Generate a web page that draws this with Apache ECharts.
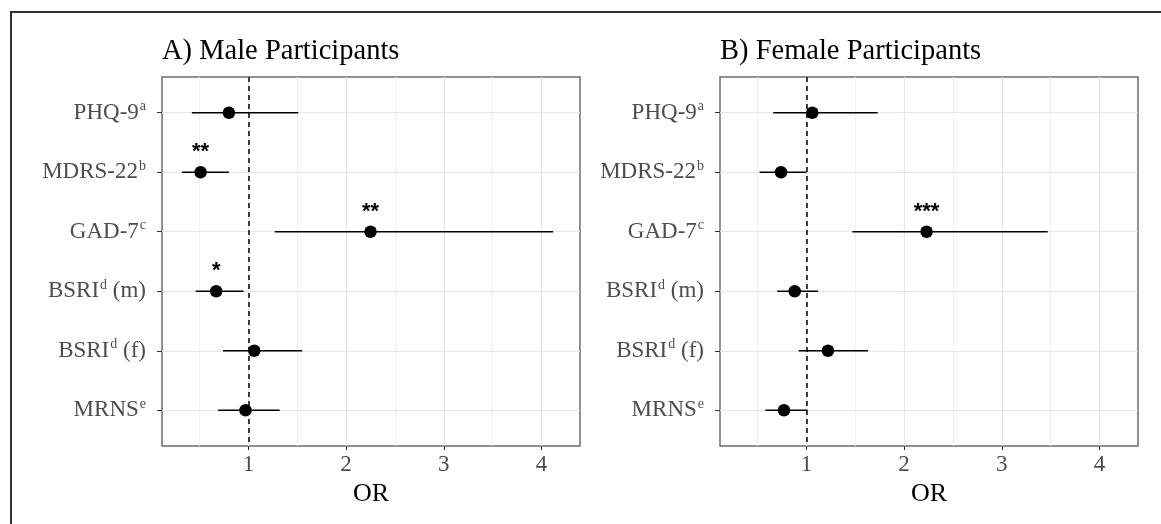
<!DOCTYPE html>
<html>
<head>
<meta charset="utf-8">
<script src="https://cdn.jsdelivr.net/npm/echarts@6/dist/echarts.min.js"></script>
<style>
html,body{margin:0;padding:0;background:#fff;}
#chart{width:1161px;height:524px;}
</style>
</head>
<body>
<div id="chart"></div>
<script>
// ---- data ----
var categories = ['PHQ-9', 'MDRS-22', 'GAD-7', 'BSRI (m)', 'BSRI (f)', 'MRNS'];
var labelBase = ['PHQ-9', 'MDRS-22', 'GAD-7', 'BSRI', 'BSRI', 'MRNS'];
var labelSup = ['a', 'b', 'c', 'd', 'd', 'e'];
var labelSuffix = ['', '', '', ' (m)', ' (f)', ''];

var maleOR   = [0.80, 0.51, 2.25, 0.67, 1.06, 0.97];
var maleLow  = [0.42, 0.32, 1.27, 0.46, 0.74, 0.69];
var maleHigh = [1.51, 0.80, 4.12, 0.95, 1.55, 1.32];
var maleStars = ['', '**', '**', '*', '', ''];

var femaleOR   = [1.06, 0.74, 2.23, 0.88, 1.22, 0.77];
var femaleLow  = [0.66, 0.52, 1.47, 0.70, 0.92, 0.58];
var femaleHigh = [1.73, 1.00, 3.47, 1.12, 1.63, 1.01];
var femaleStars = ['', '', '***', '', '', ''];

var xTicks = [1, 2, 3, 4];
var xMinor = [0.5, 1.5, 2.5, 3.5];
var refLine = 1;
var panelTitles = ['A) Male Participants', 'B) Female Participants'];
var xName = 'OR';

// ---- chart ----
var chart = echarts.init(document.getElementById('chart'), null, {renderer: 'canvas'});
var serif = '"Liberation Serif", "Times New Roman", serif';
var yPos = categories.map(function (c, i) { return i + 1; });

function yLabel(v) {
  var i = Math.round(v) - 1;
  var s = '{n|' + labelBase[i] + '}{s|' + labelSup[i] + '}';
  if (labelSuffix[i]) s += '{n|' + labelSuffix[i] + '}';
  return s;
}

var grids = [
  {left: 162, top: 77, width: 418, height: 369},
  {left: 720, top: 77, width: 418, height: 369}
];

function xAxisFor(gi) {
  return {
    type: 'value', gridIndex: gi, min: 0.115, max: 4.395,
    name: xName, nameLocation: 'middle', nameGap: 35,
    nameTextStyle: {fontFamily: serif, fontSize: 26, color: '#000'},
    axisLine: {show: false},
    axisTick: {show: true, length: 4, customValues: xTicks, lineStyle: {color: '#333', width: 1}},
    axisLabel: {customValues: xTicks, margin: 7, fontFamily: serif, fontSize: 23, color: '#4d4d4d'},
    splitLine: {show: false}
  };
}
function yAxisFor(gi) {
  return {
    type: 'value', gridIndex: gi, min: 0.4, max: 6.6, inverse: true,
    axisLine: {show: false},
    axisTick: {show: true, length: 5, customValues: yPos, lineStyle: {color: '#333', width: 1}},
    axisLabel: {
      customValues: yPos, margin: 16, formatter: yLabel,
      rich: {
        n: {fontFamily: serif, fontSize: 23, color: '#4d4d4d', lineHeight: 26},
        s: {fontFamily: serif, fontSize: 14, color: '#4d4d4d', verticalAlign: 'top', lineHeight: 26, padding: [0, 0, 9, 1]}
      }
    },
    splitLine: {show: false}
  };
}

function gridLineSeries(gi) {
  var lines = [];
  xMinor.forEach(function (v) { lines.push({xAxis: v, lineStyle: {color: '#f0f0f0', width: 1, type: 'solid'}}); });
  xTicks.forEach(function (v) { lines.push({xAxis: v, lineStyle: {color: '#e6e6e6', width: 1.2, type: 'solid'}}); });
  yPos.forEach(function (v) { lines.push({yAxis: v, lineStyle: {color: '#e6e6e6', width: 1.2, type: 'solid'}}); });
  return {
    type: 'scatter', xAxisIndex: gi, yAxisIndex: gi, data: [], z: 1, silent: true,
    markLine: {silent: true, symbol: 'none', label: {show: false}, animation: false, z: 1,
      lineStyle: {type: 'solid'}, data: lines}
  };
}
function refLineSeries(gi) {
  return {
    type: 'scatter', xAxisIndex: gi, yAxisIndex: gi, data: [], z: 2, silent: true,
    markLine: {silent: true, symbol: 'none', label: {show: false}, animation: false, z: 2,
      data: [{xAxis: refLine, lineStyle: {color: '#000', width: 1.5, type: [5, 4]}}]}
  };
}
function errSeries(gi, low, high) {
  return {
    type: 'custom', xAxisIndex: gi, yAxisIndex: gi, z: 10, silent: true,
    data: low.map(function (l, i) { return [l, high[i], i + 1]; }),
    encode: {x: [0, 1], y: 2},
    renderItem: function (params, api) {
      var a = api.coord([api.value(0), api.value(2)]);
      var b = api.coord([api.value(1), api.value(2)]);
      return {type: 'line', shape: {x1: a[0], y1: a[1], x2: b[0], y2: b[1]},
        style: {stroke: '#000', lineWidth: 1.6}};
    }
  };
}
function pointSeries(gi, or, stars) {
  return {
    type: 'scatter', xAxisIndex: gi, yAxisIndex: gi, z: 11, silent: true,
    symbol: 'circle', symbolSize: 12.5, itemStyle: {color: '#000', opacity: 1},
    data: or.map(function (v, i) { return [v, i + 1, stars[i]]; }),
    label: {show: true, position: 'top', distance: 3,
      formatter: function (p) { return p.data[2]; },
      fontFamily: '"Liberation Sans", Arial, sans-serif', fontWeight: 'bold', fontSize: 22, color: '#000'}
  };
}

var titleStyle = {fontFamily: serif, fontSize: 28.5, fontWeight: 'normal', color: '#000'};
var option = {
  animation: false,
  backgroundColor: '#fff',
  title: [
    {text: panelTitles[0], left: 162, top: 37, padding: 0, textStyle: titleStyle},
    {text: panelTitles[1], left: 720, top: 37, padding: 0, textStyle: titleStyle}
  ],
  graphic: [{
    type: 'rect', z: 100, silent: true,
    shape: {x: 11, y: 12, width: 1300, height: 700},
    style: {fill: 'none', stroke: '#333', lineWidth: 2}
  }],
  grid: grids.map(function (g) {
    return Object.assign({show: true, borderColor: '#6e6e6e', borderWidth: 1.5, backgroundColor: '#fff'}, g);
  }),
  xAxis: [xAxisFor(0), xAxisFor(1)],
  yAxis: [yAxisFor(0), yAxisFor(1)],
  series: [
    gridLineSeries(0), gridLineSeries(1),
    refLineSeries(0), refLineSeries(1),
    errSeries(0, maleLow, maleHigh), errSeries(1, femaleLow, femaleHigh),
    pointSeries(0, maleOR, maleStars), pointSeries(1, femaleOR, femaleStars)
  ]
};
chart.setOption(option);
</script>
</body>
</html>
